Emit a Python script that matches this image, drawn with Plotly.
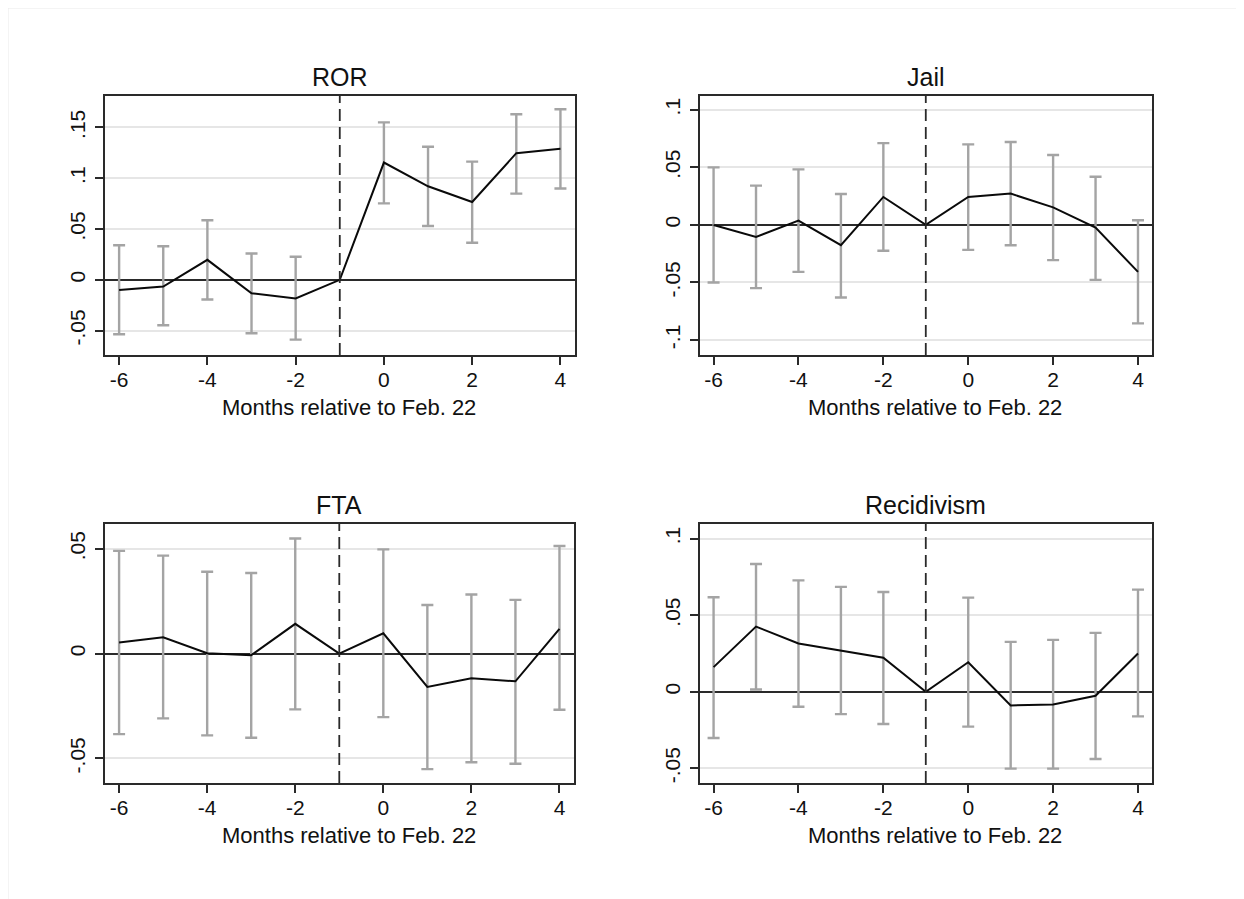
import plotly.graph_objects as go

W, H = 1244, 899
OFF = 8  # page offset of the figure inside the browser window

months = [-6, -5, -4, -3, -2, -1, 0, 1, 2, 3, 4]

ror_est = [-0.0099, -0.0066, 0.0197, -0.0132, -0.0184, 0.0, 0.1155, 0.0921, 0.0766, 0.1247, 0.1290]
ror_hi = [0.0340, 0.0330, 0.0586, 0.0260, 0.0227, None, 0.1550, 0.1310, 0.1164, 0.1630, 0.1680]
ror_lo = [-0.0536, -0.0447, -0.0194, -0.0526, -0.0589, None, 0.0753, 0.0530, 0.0365, 0.0849, 0.0900]

jail_est = [0.0, -0.0104, 0.0038, -0.0176, 0.0243, 0.0, 0.0243, 0.0272, 0.0153, -0.0023, -0.0408]
jail_hi = [0.0500, 0.0341, 0.0483, 0.0269, 0.0711, None, 0.0700, 0.0720, 0.0607, 0.0419, 0.0040]
jail_lo = [-0.0500, -0.0549, -0.0408, -0.0630, -0.0225, None, -0.0217, -0.0176, -0.0306, -0.0477, -0.0855]

fta_est = [0.0053, 0.0078, 0.0002, -0.0008, 0.0142, 0.0, 0.0097, -0.0159, -0.0118, -0.0132, 0.0118]
fta_hi = [0.0490, 0.0467, 0.0390, 0.0384, 0.0549, None, 0.0497, 0.0232, 0.0282, 0.0256, 0.0513]
fta_lo = [-0.0384, -0.0309, -0.0390, -0.0401, -0.0266, None, -0.0303, -0.0551, -0.0518, -0.0525, -0.0268]

rec_est = [0.0161, 0.0426, 0.0315, 0.0270, 0.0222, 0.0, 0.0193, -0.0089, -0.0083, -0.0026, 0.0250]
rec_hi = [0.0617, 0.0835, 0.0728, 0.0685, 0.0652, None, 0.0615, 0.0326, 0.0339, 0.0385, 0.0667]
rec_lo = [-0.0302, 0.0015, -0.0098, -0.0146, -0.0211, None, -0.0228, -0.0502, -0.0502, -0.0439, -0.0161]

x_ticks = [-6, -4, -2, 0, 2, 4]
x_ticktext = ["-6", "-4", "-2", "0", "2", "4"]
x_title = "Months relative to Feb. 22"

panels = [
    dict(title="ROR", est=ror_est, hi=ror_hi, lo=ror_lo,
         yticks=[-0.05, 0, 0.05, 0.1, 0.15], ytext=["-.05", "0", ".05", ".1", ".15"],
         yrange=[-0.074, 0.181], box=(105, 575, 96, 355)),
    dict(title="Jail", est=jail_est, hi=jail_hi, lo=jail_lo,
         yticks=[-0.1, -0.05, 0, 0.05, 0.1], ytext=["-.1", "-.05", "0", ".05", ".1"],
         yrange=[-0.113, 0.112], box=(700, 1152, 96, 355)),
    dict(title="FTA", est=fta_est, hi=fta_hi, lo=fta_lo,
         yticks=[-0.05, 0, 0.05], ytext=["-.05", "0", ".05"],
         yrange=[-0.0617, 0.0618], box=(105, 574, 524, 783)),
    dict(title="Recidivism", est=rec_est, hi=rec_hi, lo=rec_lo,
         yticks=[-0.05, 0, 0.05, 0.1], ytext=["-.05", "0", ".05", ".1"],
         yrange=[-0.0596, 0.1096], box=(700, 1152, 524, 783)),
]

FONT = "Liberation Sans, Arial, Helvetica, sans-serif"
fig = go.Figure()
annotations = []
shapes = []


def px(v):
    return (v - OFF) / W


def py(v):
    return 1 - (v - OFF) / H


for i, p in enumerate(panels, start=1):
    xa = "x" if i == 1 else f"x{i}"
    ya = "y" if i == 1 else f"y{i}"
    x0, x1, y0, y1 = p["box"]
    # CI bars (skip reference month)
    cx, cy, up, dn = [], [], [], []
    for m, e, h, l in zip(months, p["est"], p["hi"], p["lo"]):
        if h is None:
            continue
        cx.append(m)
        cy.append(e)
        up.append(h - e)
        dn.append(e - l)
    fig.add_trace(go.Scatter(
        x=cx, y=cy, mode="markers", marker=dict(size=1, opacity=0),
        error_y=dict(type="data", array=up, arrayminus=dn, symmetric=False,
                     color="#A4A4A4", thickness=2.4, width=6),
        xaxis=xa, yaxis=ya, showlegend=False, hoverinfo="skip"))
    fig.add_trace(go.Scatter(
        x=months, y=p["est"], mode="lines", line=dict(color="#0A0A0A", width=2),
        xaxis=xa, yaxis=ya, showlegend=False))

    axis_common = dict(showline=True, linecolor="#2A2A2A", linewidth=1.6, mirror=True,
                       ticks="outside", ticklen=8, tickwidth=1.6, tickcolor="#2A2A2A",
                       tickfont=dict(family=FONT, size=21, color="#111111"))
    fig.layout[("xaxis" if i == 1 else f"xaxis{i}")] = dict(
        domain=[px(x0), px(x1)], range=[-6.32, 4.33], tickvals=x_ticks, ticktext=x_ticktext,
        showgrid=False, zeroline=False, anchor=ya, ticklabelstandoff=-3, **axis_common)
    fig.layout[("yaxis" if i == 1 else f"yaxis{i}")] = dict(
        domain=[py(y1), py(y0)], range=p["yrange"], tickvals=p["yticks"],
        ticktext=p["ytext"], tickangle=-90, showgrid=True, gridcolor="#E6E6E6",
        gridwidth=1.6, zeroline=True, zerolinecolor="#2A2A2A", zerolinewidth=1.6,
        anchor=xa, ticklabelstandoff=2, **axis_common)

    # vertical dashed reference line at month -1
    shapes.append(dict(type="line", xref=xa, yref=f"{ya} domain", x0=-1, x1=-1, y0=0, y1=1,
                       line=dict(color="#2A2A2A", width=1.8, dash="12px,6px"), layer="above"))
    cxp = px((x0 + x1) / 2)
    annotations.append(dict(text=p["title"], x=cxp, y=py(y0 - 19), xref="paper", yref="paper",
                            xanchor="center", yanchor="middle", showarrow=False,
                            font=dict(family=FONT, size=25, color="#111111")))
    annotations.append(dict(text=x_title, x=px((x0 + x1) / 2 + 9), y=py(y1 + 52),
                            xref="paper", yref="paper", xanchor="center", yanchor="middle",
                            showarrow=False, font=dict(family=FONT, size=22, color="#111111")))

shapes.append(dict(type="rect", xref="paper", yref="paper", x0=0, x1=px(1243),
                   y0=-0.01, y1=1, line=dict(color="#EAEAEA", width=1), layer="below"))

fig.update_layout(width=W, height=H, margin=dict(l=0, r=0, t=0, b=0),
                  paper_bgcolor="white", plot_bgcolor="white",
                  annotations=annotations, shapes=shapes, showlegend=False)

fig.write_html("out.html")
